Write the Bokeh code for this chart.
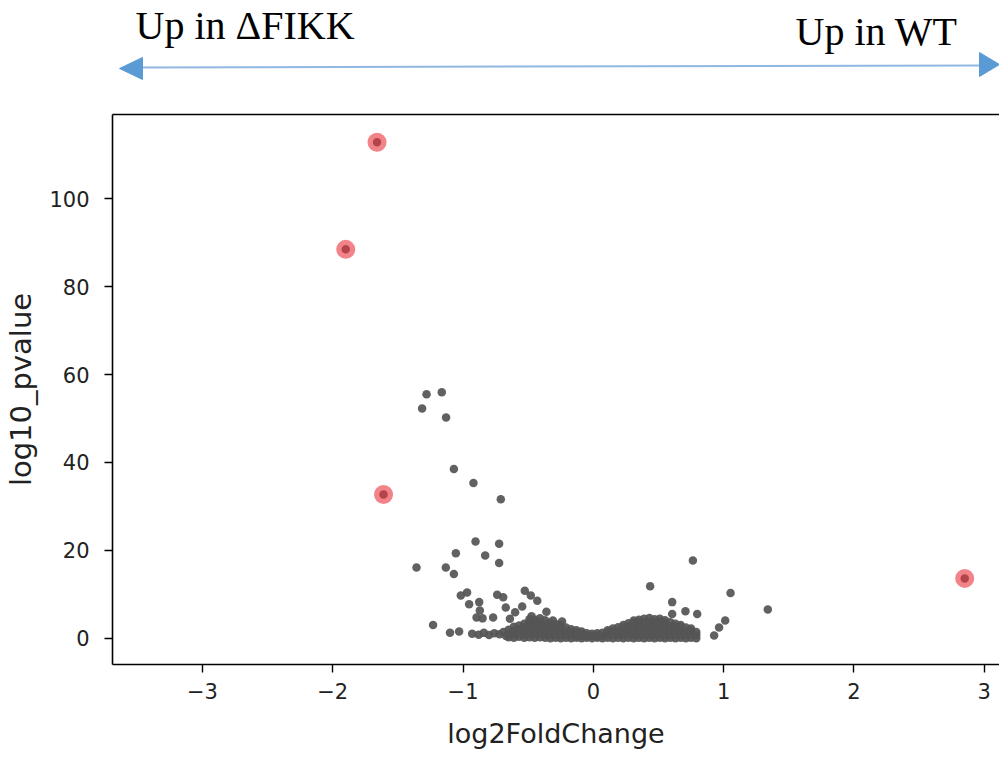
from bokeh.plotting import figure
from bokeh.layouts import column
from bokeh.models import Range1d, LinearAxis, FixedTicker
from bokeh.core.properties import value
from bokeh.embed import file_html
from bokeh.resources import INLINE

# ---------------- data ----------------
# scattered (isolated) genes
scat_x = [-1.28, -1.163, -1.314, -1.13, -1.07, -0.92, -0.71, -0.904, -0.723, -1.055,
          -0.83, -0.723, -1.357, -1.132, -1.07, 0.764, 0.436, 1.053, 1.339, 0.605,
          0.605, 0.707, 0.797, 1.012, 0.965, 0.927, -1.23, -1.10, -1.03, -1.017,
          -0.969, -0.953, -0.876, -0.871, -0.896, -0.85, -0.769, -0.738, -0.692, -0.672,
          -0.60, -0.64, -0.526, -0.48, -0.43, -0.546, -0.36, -0.474, -0.31, -0.24,
          -0.93, -0.88, -0.84, -0.80, -0.76, -0.72, -0.69, -0.67]
scat_y = [55.5, 56.0, 52.3, 50.2, 38.5, 35.3, 31.6, 22.0, 21.5, 19.3,
          18.8, 17.1, 16.1, 16.1, 14.6, 17.7, 11.8, 10.3, 6.5, 8.2,
          5.5, 6.1, 5.5, 4.0, 2.4, 0.6, 3.0, 1.25, 1.5, 9.7,
          10.4, 7.7, 8.2, 6.3, 4.7, 4.5, 4.7, 9.9, 9.3, 7.0,
          5.9, 4.4, 10.8, 9.7, 8.5, 7.2, 6.0, 5.0, 4.0, 3.8,
          1.0, 0.8, 1.2, 0.7, 1.1, 0.9, 1.4, 0.5]

# dense cloud of non-significant genes near zero
cloud_x = [-0.65, -0.65, -0.65,
           -0.61, -0.61, -0.61, -0.61,
           -0.57, -0.57, -0.57, -0.57,
           -0.53, -0.53, -0.53, -0.53, -0.53,
           -0.49, -0.49, -0.49, -0.49, -0.49, -0.49,
           -0.45, -0.45, -0.45, -0.45, -0.45, -0.45,
           -0.41, -0.41, -0.41, -0.41, -0.41, -0.41,
           -0.37, -0.37, -0.37, -0.37, -0.37, -0.37,
           -0.33, -0.33, -0.33, -0.33, -0.33,
           -0.29, -0.29, -0.29, -0.29, -0.29,
           -0.25, -0.25, -0.25, -0.25, -0.25,
           -0.21, -0.21, -0.21, -0.21,
           -0.17, -0.17, -0.17, -0.17,
           -0.13, -0.13, -0.13, -0.13,
           -0.09, -0.09, -0.09, -0.09,
           -0.05, -0.05, -0.05,
           -0.01, -0.01, -0.01,
           0.03, 0.03, 0.03,
           0.07, 0.07, 0.07,
           0.11, 0.11, 0.11, 0.11,
           0.15, 0.15, 0.15, 0.15,
           0.19, 0.19, 0.19, 0.19,
           0.23, 0.23, 0.23, 0.23, 0.23,
           0.27, 0.27, 0.27, 0.27, 0.27,
           0.31, 0.31, 0.31, 0.31, 0.31, 0.31,
           0.35, 0.35, 0.35, 0.35, 0.35, 0.35,
           0.39, 0.39, 0.39, 0.39, 0.39, 0.39,
           0.43, 0.43, 0.43, 0.43, 0.43, 0.43,
           0.47, 0.47, 0.47, 0.47, 0.47, 0.47,
           0.51, 0.51, 0.51, 0.51, 0.51, 0.51,
           0.55, 0.55, 0.55, 0.55, 0.55, 0.55,
           0.59, 0.59, 0.59, 0.59, 0.59,
           0.63, 0.63, 0.63, 0.63, 0.63,
           0.67, 0.67, 0.67, 0.67, 0.67,
           0.71, 0.71, 0.71, 0.71,
           0.75, 0.75, 0.75, 0.75,
           0.79, 0.79, 0.79]
cloud_y = [0.2, 1.0, 1.9,
           0.1, 0.9, 1.7, 2.6,
           0.3, 1.1, 2.0, 2.9,
           0.1, 0.8, 1.6, 2.5, 3.3,
           0.2, 1.0, 1.8, 2.7, 3.6, 4.3,
           0.1, 0.9, 1.7, 2.5, 3.4, 4.2,
           0.2, 1.0, 1.9, 2.8, 3.7, 4.5,
           0.1, 0.8, 1.6, 2.4, 3.3, 4.1,
           0.0, 0.9, 1.7, 2.6, 3.5,
           0.1, 0.8, 1.6, 2.5, 3.2,
           0.0, 0.7, 1.5, 2.3, 3.0,
           0.1, 0.8, 1.5, 2.4,
           0.0, 0.7, 1.4, 2.0,
           0.1, 0.6, 1.2, 1.8,
           0.0, 0.5, 1.1, 1.5,
           0.1, 0.6, 1.1,
           0.0, 0.5, 1.0,
           0.1, 0.6, 1.1,
           0.0, 0.5, 1.2,
           0.1, 0.7, 1.3, 1.8,
           0.0, 0.8, 1.5, 2.2,
           0.1, 0.9, 1.7, 2.5,
           0.0, 0.8, 1.6, 2.4, 3.0,
           0.1, 0.9, 1.8, 2.7, 3.4,
           0.0, 0.8, 1.7, 2.6, 3.5, 4.0,
           0.1, 0.9, 1.8, 2.7, 3.6, 4.2,
           0.0, 0.8, 1.7, 2.6, 3.5, 4.4,
           0.1, 0.9, 1.8, 2.7, 3.6, 4.6,
           0.0, 0.8, 1.7, 2.6, 3.5, 4.3,
           0.1, 0.9, 1.8, 2.7, 3.6, 4.4,
           0.0, 0.8, 1.7, 2.6, 3.5, 4.1,
           0.1, 0.9, 1.8, 2.7, 3.6,
           0.0, 0.8, 1.7, 2.6, 3.3,
           0.1, 0.9, 1.8, 2.6, 3.0,
           0.0, 0.8, 1.6, 2.4,
           0.1, 0.9, 1.7, 2.2,
           0.0, 0.7, 1.4]

# highlighted genes
hit_x = [-1.66, -1.90, -1.61, 2.85]
hit_y = [112.9, 88.5, 32.7, 13.6]

x_ticks = [-3, -2, -1, 0, 1, 2, 3]
y_ticks = [0, 20, 40, 60, 80, 100]

left_text = "Up in \u0394FIKK"
right_text = "Up in WT"

# ---------------- header (arrow + texts) ----------------
# the column aligns this frame with the plot frame below (starts at px 112),
# so the range is expressed in page pixels
top = figure(width=999, height=100, output_backend="svg", toolbar_location=None,
             x_range=Range1d(112, 999), y_range=Range1d(100, 0),
             min_border_left=112, min_border_right=0, min_border_top=0, min_border_bottom=0,
             outline_line_color=None)
top.axis.visible = False
top.grid.visible = False
top.segment(x0=[138], y0=[67], x1=[982], y1=[65], line_color="#8fb9e3", line_width=2)
top.patches(xs=[[119, 142, 142], [999, 979, 979]], ys=[[68, 57, 79], [64, 52, 76]],
            fill_color="#5b9bd5", line_color="#5b9bd5")
top.text(x=[135], y=[25], text=[left_text], text_font=value("Liberation Serif"),
         text_font_size="40px", text_color="black", text_baseline="alphabetic", text_align="left")
top.text(x=[795], y=[31], text=[right_text], text_font=value("Liberation Serif"),
         text_font_size="40px", text_color="black", text_baseline="alphabetic", text_align="left")

# ---------------- volcano plot ----------------
p = figure(width=999, height=657, output_backend="svg", toolbar_location=None,
           x_range=Range1d(-3.69, 3.117), y_range=Range1d(-6.0, 119.2),
           min_border_left=112, min_border_right=0, min_border_top=14, min_border_bottom=93,
           outline_line_color=None)
p.grid.visible = False

grey = dict(size=8.5, fill_color="#555555", fill_alpha=0.93, line_color=None)
p.scatter(x=cloud_x, y=cloud_y, **grey)
p.scatter(x=scat_x, y=scat_y, **grey)
p.scatter(x=hit_x, y=hit_y, **grey)
p.scatter(x=hit_x, y=hit_y, size=19, fill_color="#e8303a", fill_alpha=0.6, line_color=None)

for ax in (p.xaxis[0], p.yaxis[0]):
    ax.axis_line_color = "black"
    ax.axis_line_width = 1.6
    ax.major_tick_line_color = "black"
    ax.major_tick_line_width = 1.4
    ax.major_tick_out = 8
    ax.major_tick_in = 0
    ax.minor_tick_line_color = None
    ax.major_label_text_font = "DejaVu Sans"
    ax.major_label_text_font_size = "21px"
    ax.major_label_text_color = "#222222"
    ax.axis_label_text_font = "DejaVu Sans"
    ax.axis_label_text_font_style = "normal"
    ax.axis_label_text_color = "#222222"

p.xaxis[0].axis_label_text_font_size = "27px"
p.yaxis[0].axis_label_text_font_size = "29px"
p.xaxis[0].ticker = FixedTicker(ticks=x_ticks)
p.yaxis[0].ticker = FixedTicker(ticks=y_ticks)
p.xaxis[0].axis_label = "log2FoldChange"
p.yaxis[0].axis_label = "log10_pvalue"
p.xaxis[0].major_label_standoff = 10
p.xaxis[0].axis_label_standoff = 16
p.yaxis[0].major_label_standoff = 15
p.yaxis[0].axis_label_standoff = 8
p.xaxis[0].major_label_overrides = {t: str(t).replace("-", "\u2212") for t in x_ticks}

top_axis = LinearAxis(ticker=FixedTicker(ticks=[]), major_tick_line_color=None,
                      minor_tick_line_color=None, axis_line_color="black",
                      axis_line_width=1.6)
p.add_layout(top_axis, "above")

layout = column(top, p)
open("out.html", "w").write(file_html(layout, INLINE))
